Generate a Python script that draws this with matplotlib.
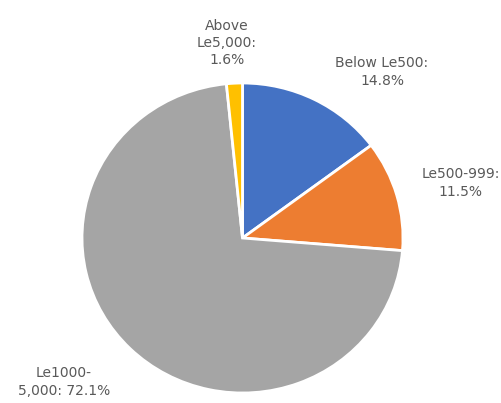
import matplotlib
matplotlib.use('Agg')
import matplotlib.pyplot as plt

labels = ['Below Le500', 'Le500-999', 'Le1000-\n5,000', 'Above\nLe5,000']
shares = [14.8, 11.5, 72.1, 1.6]
colors = ['#4472C4', '#ED7D31', '#A5A5A5', '#FFC000']

W, H = 501, 403
fig = plt.figure(figsize=(W / 100, H / 100), dpi=100)

# pie is a bit squashed in the reference, so keep aspect auto
ax = fig.add_axes([82 / W, (H - 393) / H, 321 / W, 310 / H])
ax.pie(shares, colors=colors, startangle=90, counterclock=False, radius=1,
       wedgeprops=dict(edgecolor='white', linewidth=2))
ax.set_aspect('auto')
ax.set_xlim(-1, 1)
ax.set_ylim(-1, 1)
ax.axis('off')

# label spots in pixel coords (x, y from top), horizontal alignment
label_pos = [(382, 72, 'center'), (500, 183, 'right'), (64, 382, 'center'), (227, 43, 'center')]
texts = [
    'Below Le500:\n14.8%',
    'Le500-999:\n11.5%',
    'Le1000-\n5,000: 72.1%',
    'Above\nLe5,000:\n1.6%',
]
for (x, y, ha), t in zip(label_pos, texts):
    fig.text(x / W, 1 - y / H, t, ha=ha, va='center', fontsize=10,
             color='#595959', linespacing=1.3, multialignment='center')

fig.savefig('out.png', dpi=100)
